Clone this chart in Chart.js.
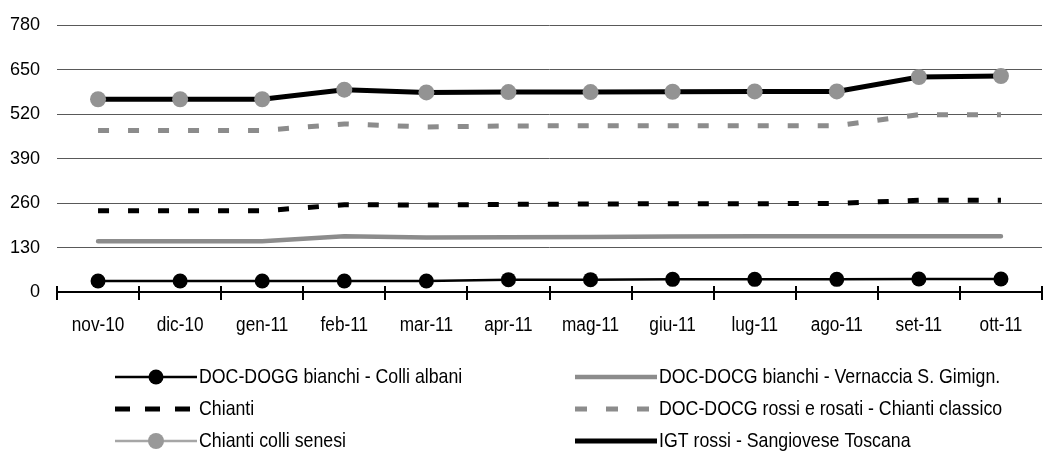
<!DOCTYPE html>
<html>
<head>
<meta charset="utf-8">
<script src="https://cdn.jsdelivr.net/npm/chart.js@4/dist/chart.umd.min.js"></script>
<style>
  html, body { margin: 0; padding: 0; overflow: hidden; background: #fff; }
  canvas { display: block; }
</style>
</head>
<body>
<canvas id="myChart" width="1050" height="460"></canvas>
<script>
const months = ["nov-10", "dic-10", "gen-11", "feb-11", "mar-11", "apr-11", "mag-11", "giu-11", "lug-11", "ago-11", "set-11", "ott-11"];

const colliAlbani = [32, 32, 32, 32, 32, 36, 36, 37, 37, 37, 38, 38];
const vernaccia = [148, 148, 148, 163, 159, 160, 161, 162, 163, 163, 163, 163];
const chianti = [237, 237, 237, 255, 254, 256, 257, 258, 258, 259, 268, 268];
const chiantiClassico = [472, 472, 472, 491, 482, 485, 486, 486, 486, 486, 518, 518];
const colliSenesi = [563, 563, 563, 591, 583, 584, 584, 585, 586, 586, 628, 631];
const igtRossi = [563, 563, 563, 591, 583, 584, 584, 585, 586, 586, 628, 631];

const yMax = 780;
const yStep = 130;

// no narrow font installed, so text is squeezed horizontally by hand
const FONT = "'Liberation Sans', Arial, sans-serif";
const GRAY = "#8c8c8c";

const legendItems = [
  { text: "DOC-DOGG bianchi - Colli albani", color: "#000", width: 2.5, dash: [], dot: 7.5, dotColor: "#000" },
  { text: "DOC-DOCG bianchi - Vernaccia S. Gimign.", color: GRAY, width: 4.5, dash: [] },
  { text: "Chianti", color: "#000", width: 5, dash: [15, 15] },
  { text: "DOC-DOCG rossi e rosati - Chianti classico", color: GRAY, width: 5, dash: [12, 19] },
  { text: "Chianti colli senesi", color: "#a6a6a6", width: 2.5, dash: [], dot: 8, dotColor: "#999" },
  { text: "IGT rossi - Sangiovese Toscana", color: "#000", width: 5, dash: [] },
];

function squeezedText(c, text, x, y, size, sx, align) {
  c.save();
  c.font = size + "px " + FONT;
  c.textAlign = align;
  c.textBaseline = "middle";
  c.fillStyle = "#000";
  c.translate(x, y);
  c.scale(sx, 1);
  c.fillText(text, 0, 0);
  c.restore();
}

const extras = {
  id: "extras",
  afterDraw(chart) {
    const c = chart.ctx;
    const x = chart.scales.x;
    const y = chart.scales.y;
    const area = chart.chartArea;
    const half = (x.getPixelForValue(1) - x.getPixelForValue(0)) / 2;

    // axis tick marks crossing the axis line
    c.save();
    c.strokeStyle = "#000";
    c.lineWidth = 2;
    for (let i = 0; i <= months.length; i++) {
      const px = Math.round(x.getPixelForValue(0) - half + i * half * 2);
      c.beginPath();
      c.moveTo(px, area.bottom - 6);
      c.lineTo(px, area.bottom + 8);
      c.stroke();
    }
    c.restore();

    // tick labels
    months.forEach((m, i) => {
      squeezedText(c, m, x.getPixelForValue(i), area.bottom + 33, 20, 0.86, "center");
    });
    y.ticks.forEach((t) => {
      squeezedText(c, String(t.value), area.left - 17, y.getPixelForValue(t.value), 19, 0.95, "right");
    });

    // legend in two columns
    const colX = [115, 575];
    const rowY = [377, 409, 441];
    const sampleLen = 82;
    legendItems.forEach((it, i) => {
      const lx = colX[i % 2];
      const ly = rowY[Math.floor(i / 2)];
      c.save();
      c.strokeStyle = it.color;
      c.lineWidth = it.width;
      c.setLineDash(it.dash);
      c.beginPath();
      c.moveTo(lx, ly);
      c.lineTo(lx + sampleLen, ly);
      c.stroke();
      c.setLineDash([]);
      if (it.dot) {
        c.fillStyle = it.dotColor;
        c.beginPath();
        c.arc(lx + sampleLen / 2, ly, it.dot, 0, Math.PI * 2);
        c.fill();
      }
      c.restore();
      squeezedText(c, it.text, lx + sampleLen + 2, ly, 21, 0.845, "left");
    });
  }
};

const ctx = document.getElementById("myChart");

new Chart(ctx, {
  type: "line",
  data: {
    labels: months,
    datasets: [
      {
        label: "DOC-DOGG bianchi - Colli albani",
        data: colliAlbani,
        borderColor: "#000",
        borderWidth: 2.5,
        pointRadius: 7.5,
        pointBackgroundColor: "#000",
        pointBorderWidth: 0,
      },
      {
        label: "DOC-DOCG bianchi - Vernaccia S. Gimign.",
        data: vernaccia,
        borderColor: GRAY,
        borderWidth: 4.5,
        borderCapStyle: "round",
        pointRadius: 0,
      },
      {
        label: "Chianti",
        data: chianti,
        borderColor: "#000",
        borderWidth: 5,
        borderDash: [11, 19],
        pointRadius: 0,
      },
      {
        label: "DOC-DOCG rossi e rosati - Chianti classico",
        data: chiantiClassico,
        borderColor: GRAY,
        borderWidth: 5,
        borderDash: [11, 19],
        pointRadius: 0,
      },
      {
        // its line sits under the IGT line, only the markers show
        label: "Chianti colli senesi",
        data: colliSenesi,
        showLine: false,
        pointRadius: 8,
        pointBackgroundColor: "#939393",
        pointBorderWidth: 0,
      },
      {
        label: "IGT rossi - Sangiovese Toscana",
        data: igtRossi,
        borderColor: "#000",
        borderWidth: 5,
        pointRadius: 0,
      },
    ],
  },
  options: {
    responsive: false,
    animation: false,
    layout: { padding: { top: 25, right: 0, left: 0, bottom: 0 } },
    plugins: {
      legend: { display: false },
      tooltip: { enabled: false },
    },
    scales: {
      x: {
        offset: true,
        grid: { display: false },
        border: { color: "#000", width: 2 },
        ticks: { display: false },
        afterFit: (s) => { s.height = 168; },
      },
      y: {
        min: 0,
        max: yMax,
        ticks: { display: false, stepSize: yStep },
        grid: { color: "#595959", lineWidth: 1, drawTicks: false },
        border: { display: false },
        afterFit: (s) => { s.width = 57; },
      },
    },
  },
  plugins: [extras],
});
</script>
</body>
</html>
